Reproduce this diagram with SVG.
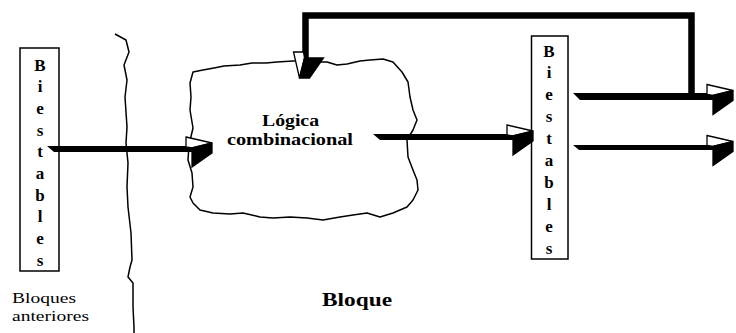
<svg xmlns="http://www.w3.org/2000/svg" xmlns:xlink="http://www.w3.org/1999/xlink" width="736" height="333" viewBox="0 0 736 333">
<style>
.box{fill:#fff;stroke:#000;stroke-width:1.5}
.ltr{font-family:"Liberation Serif","Times New Roman","DejaVu Serif",serif;font-weight:bold;font-size:17px;text-anchor:middle;fill:#000}
.lbl{font-family:"Liberation Serif","Times New Roman","DejaVu Serif",serif;fill:#000}
.wave{fill:none;stroke:#000;stroke-width:1.5;stroke-linejoin:round}
.bar{fill:#000;stroke:none}
.fb{fill:none;stroke:#000;stroke-width:6.5;stroke-linejoin:miter}
.w{fill:#fff;stroke:#000;stroke-width:1.3;stroke-linejoin:miter}
.b{fill:#000;stroke:#000;stroke-width:1.3;stroke-linejoin:miter}
</style>
<defs>
<g id="ah">
<polygon class="w" points="-26,-12 0,-6 -20,-1 -26,-2"/>
<polygon class="b" points="-20,-1 0,-6 0,4 -20,18"/>
</g>
</defs>

<g id="separator">
<polyline class="wave" points="115,34 126,40 129,52 124,65 127,80 125,97 127,127 126,143 128,163 127,187 128,207 131,233 132,260 130,267 128,277 133,283 133,293 133,307 134,327 134,333"/>
</g>

<g id="biestables-left">
<rect class="box" x="20" y="48" width="39" height="223"/>
<text class="ltr" x="40" y="70.5">B</text>
<text class="ltr" x="40" y="92.2">i</text>
<text class="ltr" x="40" y="113.9">e</text>
<text class="ltr" x="40" y="135.6">s</text>
<text class="ltr" x="40" y="157.3">t</text>
<text class="ltr" x="40" y="179">a</text>
<text class="ltr" x="40" y="200.7">b</text>
<text class="ltr" x="40" y="222.4">l</text>
<text class="ltr" x="40" y="244.1">e</text>
<text class="ltr" x="40" y="265.8">s</text>
</g>

<g id="logica-combinacional">
<path class="wave" d="M193,72 L203,70 L214,68 L224,66 L240,65 L252,63 L266,63 L277,62 L293,61 L300,61 L315,62 L327,62 L337,65 L347,64 L360,61 L370,60 L383,59 L393,62 L402,72 L408,82 L410,97 L413,110 L417,120 L413,130 L407,140 L408,157 L413,170 L417,180 L418,190 L413,200 L407,207 L393,213 L380,217 L367,213 L353,215 L340,217 L323,220 L307,218 L290,217 L273,218 L260,217 L243,213 L230,214 L213,213 L200,210 L193,203 L190,197 L193,187 L192,173 L188,160 L189,145 L193,128 L190,110 L191,97 L190,83 Z" fill="#fff"/>
<text class="lbl" x="290.5" y="126" font-size="17" font-weight="bold" text-anchor="middle" textLength="57" lengthAdjust="spacingAndGlyphs">Lógica</text>
<text class="lbl" x="290" y="145" font-size="17" font-weight="bold" text-anchor="middle" textLength="126" lengthAdjust="spacingAndGlyphs">combinacional</text>
</g>

<g id="biestables-right">
<rect class="box" x="531.5" y="36" width="36.5" height="223"/>
<text class="ltr" x="549" y="56.5">B</text>
<text class="ltr" x="549" y="78.4">i</text>
<text class="ltr" x="549" y="100.3">e</text>
<text class="ltr" x="549" y="122.2">s</text>
<text class="ltr" x="549" y="144.1">t</text>
<text class="ltr" x="549" y="166">a</text>
<text class="ltr" x="549" y="187.9">b</text>
<text class="ltr" x="549" y="209.8">l</text>
<text class="ltr" x="549" y="231.7">e</text>
<text class="ltr" x="549" y="253.6">s</text>
</g>

<g id="connectors">
<polygon class="bar" points="47,146 192,146 192,152 54,152"/>
<use xlink:href="#ah" href="#ah" transform="translate(212,149)"/>
<polygon class="bar" points="373,134 513,134 513,140 380,140"/>
<use xlink:href="#ah" href="#ah" transform="translate(533,137)"/>
<polygon class="bar" points="573,93 713,93 713,100 580,100"/>
<use xlink:href="#ah" href="#ah" transform="translate(733,96.5)"/>
<polygon class="bar" points="573,145 713,145 713,150 579,150"/>
<use xlink:href="#ah" href="#ah" transform="translate(733,147.5)"/>
<path class="fb" d="M691.5,96 V15.5 H305.5 V60"/>
<use xlink:href="#ah" href="#ah" transform="matrix(0,1,1,0,305.5,78)"/>
</g>

<g id="labels">
<text class="lbl" x="12" y="303" font-size="15.5" textLength="64" lengthAdjust="spacingAndGlyphs">Bloques</text>
<text class="lbl" x="12" y="321" font-size="15.5" textLength="77" lengthAdjust="spacingAndGlyphs">anteriores</text>
<text class="lbl" x="322" y="306" font-size="19" font-weight="bold" textLength="70" lengthAdjust="spacingAndGlyphs">Bloque</text>
</g>
</svg>
